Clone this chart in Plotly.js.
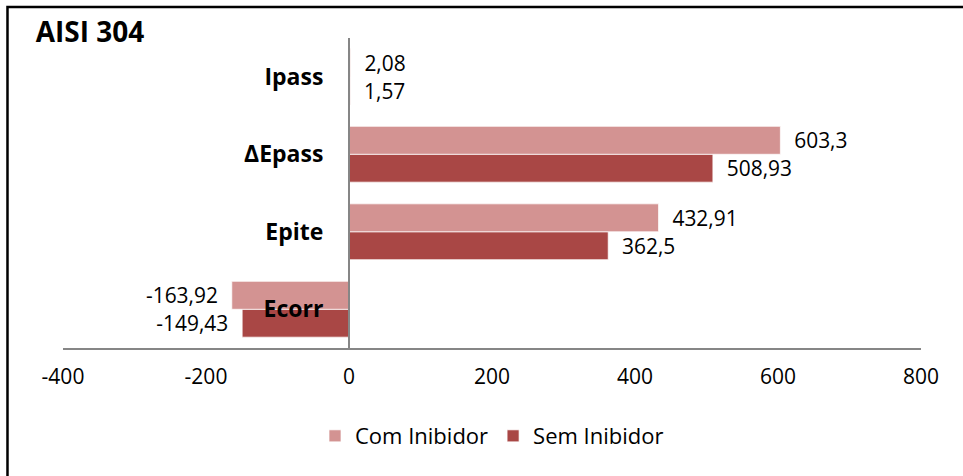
<!DOCTYPE html>
<html>
<head>
<meta charset="utf-8">
<script src="https://cdn.plot.ly/plotly-3.0.1.min.js"></script>
<style>
  body { margin: 0; background: #fff; }
  #chart { width: 963px; height: 476px; }
</style>
</head>
<body>
<div id="chart"></div>
<script>
var categories = ['Ecorr', 'Epite', '\u0394Epass', 'Ipass'];
var comInibidor = [-163.92, 432.91, 603.3, 2.08];
var semInibidor = [-149.43, 362.5, 508.93, 1.57];
var xTicks = [-400, -200, 0, 200, 400, 600, 800];

// decimal comma, plus a little padding on the side facing the bar
var pad = '\u00a0\u00a0';
function ptLabel(v) {
    var s = String(v).replace('.', ',');
    return v < 0 ? s + pad : pad + s;
}

var fontName = '"Open Sans", "Liberation Sans", sans-serif';

// Sem first so it sits below Com inside each group (horizontal bars)
var sem = {
    y: categories,
    x: semInibidor,
    name: 'Sem Inibidor',
    type: 'bar',
    orientation: 'h',
    legendrank: 2,
    text: semInibidor.map(ptLabel),
    textposition: 'outside',
    textfont: {size: 21, color: '#000', family: fontName},
    cliponaxis: false,
    hoverinfo: 'none',
    marker: {color: '#A94745', line: {color: 'rgba(255,255,255,0.7)', width: 1}}
};

var com = {
    y: categories,
    x: comInibidor,
    name: 'Com Inibidor',
    type: 'bar',
    orientation: 'h',
    legendrank: 1,
    text: comInibidor.map(ptLabel),
    textposition: 'outside',
    textfont: {size: 21, color: '#000', family: fontName},
    cliponaxis: false,
    hoverinfo: 'none',
    marker: {color: '#D39392', line: {color: 'rgba(255,255,255,0.7)', width: 1}}
};

var layout = {
    width: 963,
    height: 476,
    margin: {l: 63, r: 42, t: 38, b: 128},
    font: {family: fontName, size: 21, color: '#000'},
    title: {
        text: '<b>AISI 304</b>',
        font: {size: 28, color: '#000'},
        x: 0.037, xanchor: 'left',
        y: 0.932, yanchor: 'middle'
    },
    barmode: 'group',
    bargap: 0.28,
    bargroupgap: 0,
    showlegend: true,
    legend: {
        orientation: 'h',
        x: 0.5, xanchor: 'center',
        y: -0.284, yanchor: 'middle',
        font: {size: 22},
        traceorder: 'normal'
    },
    xaxis: {
        range: [-400, 800],
        tickvals: xTicks,
        ticktext: xTicks.map(String),
        showgrid: false,
        zeroline: false,
        showline: true,
        linecolor: '#868686',
        linewidth: 2,
        ticks: '',
        ticklabelstandoff: 9,
        tickfont: {size: 21}
    },
    yaxis: {
        type: 'category',
        categoryorder: 'array',
        categoryarray: categories,
        anchor: 'free',
        position: 1 / 3,
        showgrid: false,
        zeroline: false,
        showline: true,
        linecolor: '#868686',
        linewidth: 2,
        ticks: '',
        ticklabelstandoff: 20,
        tickfont: {size: 23, family: fontName, weight: 'bold'}
    },
    shapes: [{
        type: 'rect',
        xref: 'paper', yref: 'paper',
        x0: -0.0647, x1: 1.1,
        y0: -0.5, y1: 1.1,
        line: {color: '#000', width: 2.5},
        fillcolor: 'rgba(0,0,0,0)',
        layer: 'below'
    }],
    paper_bgcolor: '#fff',
    plot_bgcolor: 'rgba(0,0,0,0)'
};

Plotly.newPlot('chart', [sem, com], layout, {displayModeBar: false, staticPlot: true});
</script>
</body>
</html>
